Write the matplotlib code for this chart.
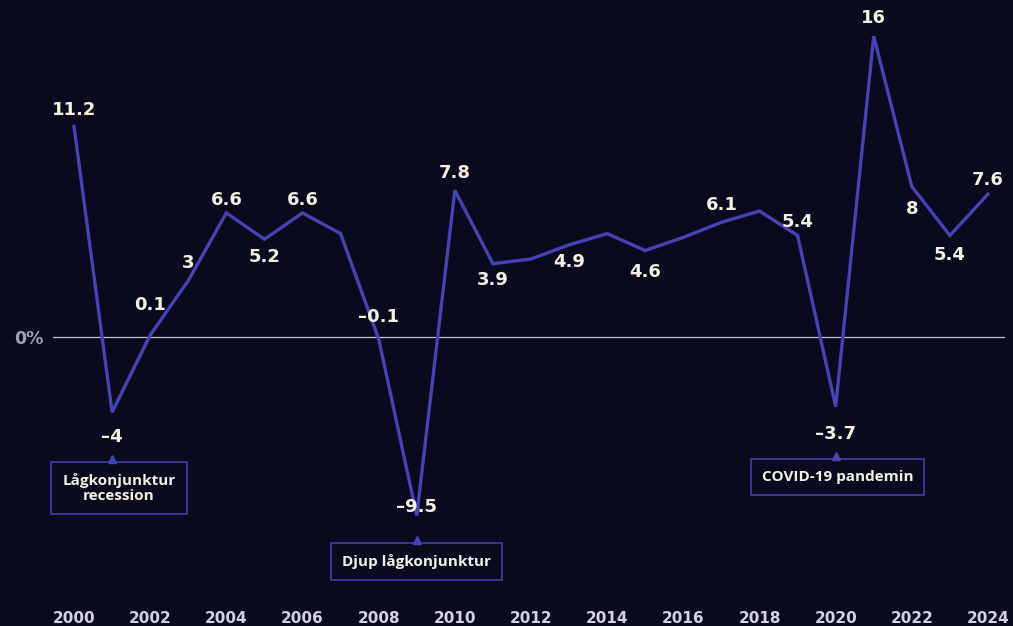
import matplotlib
matplotlib.use("Agg")
import matplotlib.pyplot as plt
from matplotlib import transforms

# ---- data ----
years = list(range(2000, 2025))
growth = [11.2, -4, 0.1, 3, 6.6, 5.2, 6.6, 5.5, -0.1, -9.5, 7.8, 3.9, 4.15, 4.9,
          5.5, 4.6, 5.3, 6.1, 6.7, 5.4, -3.7, 16, 8, 5.4, 7.6]
label_years = [2000, 2001, 2002, 2003, 2004, 2005, 2006, 2008, 2009, 2010, 2011,
               2013, 2015, 2017, 2019, 2020, 2021, 2022, 2023, 2024]
tick_years = list(range(2000, 2025, 2))
event_years = [2001, 2009, 2020]
event_texts = ["Lågkonjunktur\nrecession", "Djup lågkonjunktur", "COVID-19 pandemin"]

# ---- layout / style (pixel offsets) ----
label_dy = {2000: 16, 2001: -25, 2002: 30, 2003: 18, 2004: 13, 2005: -18, 2006: 13,
            2008: 22, 2009: 9, 2010: 17, 2011: -16, 2013: -17, 2015: -21, 2017: 17,
            2019: 13, 2020: -27, 2021: 18, 2022: -22, 2023: -20, 2024: 14}
event_box_top = {2001: -50, 2009: -27, 2020: -52}
event_dx = {2001: 7, 2009: 0, 2020: 2}

BG = "#0a0a1f"
LINE = "#4444b4"
TXT = "#f6f0e2"
TICK = "#d4d1e4"
ZERO_TXT = "#a3a1b8"

W, H = 1013, 626
fig = plt.figure(figsize=(W / 100, H / 100), dpi=100, facecolor=BG)

# axes pixel geometry
px_left, px_right = 53, 1005
px_top, px_bottom = 10, 600
x0_px, x1_px = 74, 988          # 2000 and 2024
zero_px, scale = 337, 18.8      # y pixel of 0, pixels per unit

ax = fig.add_axes([px_left / W, 1 - px_bottom / H, (px_right - px_left) / W,
                   (px_bottom - px_top) / H])
ax.set_facecolor(BG)
ppy = (x1_px - x0_px) / 24
ax.set_xlim(2000 - (x0_px - px_left) / ppy, 2024 + (px_right - x1_px) / ppy)
ax.set_ylim(-(px_bottom - zero_px) / scale, (zero_px - px_top) / scale)
for s in ax.spines.values():
    s.set_visible(False)

ax.axhline(0, color="#c9c7d6", lw=0.9, zorder=1)
ax.plot(years, growth, color=LINE, lw=2.4, zorder=3, clip_on=False,
        solid_joinstyle="miter")

num_font = dict(family="DejaVu Sans", weight="bold", size=13, color=TXT)
for y, v in zip(years, growth):
    if y in label_years:
        txt = f"{v:g}".replace("-", "–")
        ax.annotate(txt, xy=(y, v), xytext=(0, label_dy[y]), textcoords="offset pixels",
                    ha="center", va="center", zorder=5, **num_font)

# event annotations
for y, t in zip(event_years, event_texts):
    v = growth[years.index(y)]
    top = event_box_top[y]
    ax.annotate(t, xy=(y, v), xytext=(event_dx[y], top - 11), textcoords="offset pixels",
                ha="center", va="top", family="Open Sans", weight="bold",
                size=11, color=TXT, linespacing=1.05, zorder=6,
                bbox=dict(boxstyle="square,pad=0.72", fc=BG, ec=LINE, lw=1.1))
    ax.plot([y], [v], marker="^", ms=6, color=LINE, mec=LINE, zorder=7,
            transform=transforms.offset_copy(ax.transData, fig=fig, x=0,
                                             y=(top + 3) / 100, units="inches"),
            clip_on=False)

ax.set_xticks(tick_years)
ax.set_xticklabels([str(y) for y in tick_years], family="DejaVu Sans",
                   weight="bold", size=11, color=TICK)
ax.tick_params(axis="x", length=0, pad=8)
ax.set_yticks([0])
ax.set_yticklabels(["0%"], family="DejaVu Sans", weight="bold", size=12.5,
                   color=ZERO_TXT)
ax.tick_params(axis="y", length=0, pad=7)

fig.savefig("out.png", dpi=100, facecolor=BG)
